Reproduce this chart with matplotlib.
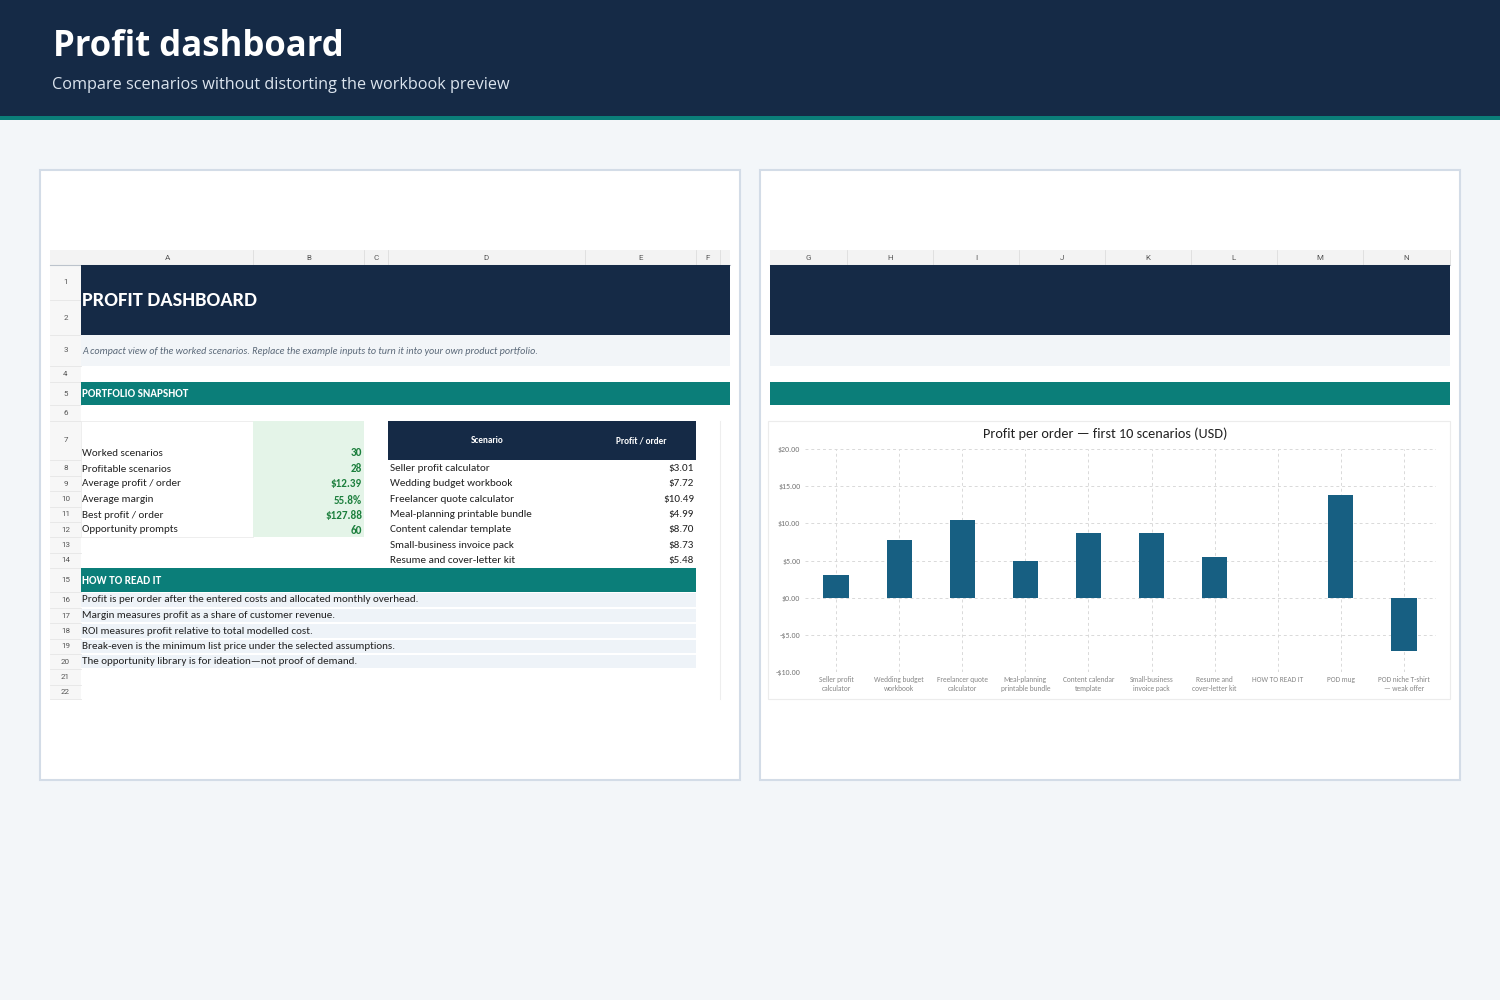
import numpy as np
import matplotlib.pyplot as plt
from matplotlib.patches import Rectangle

# ---- data ----
metric_labels = ["Worked scenarios", "Profitable scenarios", "Average profit / order",
                 "Average margin", "Best profit / order", "Opportunity prompts"]
metric_values = ["30", "28", "$12.39", "55.8%", "$127.88", "60"]

scenario_names = ["Seller profit calculator", "Wedding budget workbook",
                  "Freelancer quote calculator", "Meal-planning printable bundle",
                  "Content calendar template", "Small-business invoice pack",
                  "Resume and cover-letter kit"]
scenario_profits = [3.01, 7.72, 10.49, 4.99, 8.70, 8.73, 5.48]

notes = ["Profit is per order after the entered costs and allocated monthly overhead.",
         "Margin measures profit as a share of customer revenue.",
         "ROI measures profit relative to total modelled cost.",
         "Break-even is the minimum list price under the selected assumptions.",
         "The opportunity library is for ideation\u2014not proof of demand."]

chart_labels = ["Seller profit\ncalculator", "Wedding budget\nworkbook",
                "Freelancer quote\ncalculator", "Meal-planning\nprintable bundle",
                "Content calendar\ntemplate", "Small-business\ninvoice pack",
                "Resume and\ncover-letter kit", "HOW TO READ IT", "POD mug",
                "POD niche T-shirt\n\u2014 weak offer"]
chart_values = [3.01, 7.72, 10.49, 4.99, 8.70, 8.73, 5.48, np.nan, 13.84, -7.15]
chart_ticks = [-10, -5, 0, 5, 10, 15, 20]

left_cols = ["A", "B", "C", "D", "E", "F"]
right_cols = ["G", "H", "I", "J", "K", "L", "M", "N"]

# ---- colours / fonts ----
NAVY = "#152a46"
TEAL = "#0b7e79"
BG = "#f3f6f9"
GREEN = "#1c7f3d"
BAR = "#175f82"
HEAD_FONT = ["Open Sans", "DejaVu Sans"]
SHEET_FONT = ["Carlito", "DejaVu Sans"]
GRID_FONT = ["Roboto", "DejaVu Sans"]
BODY = 8.0

fig = plt.figure(figsize=(15, 10), dpi=100)
fig.patch.set_facecolor(BG)
bg = fig.add_axes([0, 0, 1, 1])
bg.set_xlim(0, 1500)
bg.set_ylim(1000, 0)
bg.axis("off")


def box(x0, y0, x1, y1, fc, ec="none", lw=0.8, z=1):
    bg.add_patch(Rectangle((x0, y0), x1 - x0, y1 - y0, facecolor=fc,
                           edgecolor=ec, linewidth=lw, zorder=z))


def txt(x, y, s, size=7, color="#222222", ha="left", weight="normal",
        style="normal", family=SHEET_FONT, z=5):
    bg.text(x, y, s, fontsize=size, color=color, ha=ha, va="center",
            fontweight=weight, fontstyle=style, family=family, zorder=z)


# header band
box(0, 0, 1500, 116, NAVY)
box(0, 116, 1500, 120, TEAL)
txt(53, 47, "Profit dashboard", size=25, color="white", weight="bold", family=HEAD_FONT)
txt(52, 85, "Compare scenarios without distorting the workbook preview", size=11.7,
    color="#dbe4ee", family=HEAD_FONT)

# two panels
box(40, 170, 740, 780, "white", ec="#d3dce7", lw=1.5)
box(760, 170, 1460, 780, "white", ec="#d3dce7", lw=1.5)

# ---- left sheet ----
row_edges = [265, 300, 335, 366, 382, 405, 421, 460, 476, 491, 507, 522, 537,
             553, 568, 592, 608, 623, 639, 654, 669, 685, 699]
col_edges = [81, 253, 364, 388, 585, 696, 720]
box(50, 250, 730, 265, "#f3f3f3")
box(50, 265, 81, 699, "#f7f7f7")
for c0, c1, lab in zip(col_edges[:-1], col_edges[1:], left_cols):
    txt((c0 + c1) / 2, 257.5, lab, size=5.8, color="#555555", ha="center", family=GRID_FONT)
    bg.plot([c1, c1], [250, 265], color="#dddddd", lw=0.6, zorder=2)
bg.plot([50, 730], [265, 265], color="#bcc3cc", lw=0.8, zorder=2)
for i in range(len(row_edges) - 1):
    r0, r1 = row_edges[i], row_edges[i + 1]
    txt(65.5, (r0 + r1) / 2, str(i + 1), size=5.8, color="#555555", ha="center",
        family=GRID_FONT)
    bg.plot([50, 81], [r1, r1], color="#e6e6e6", lw=0.6, zorder=2)

box(81, 265, 730, 335, NAVY, z=2)
txt(82, 301, "PROFIT DASHBOARD", size=14.7, color="white", weight="bold")
box(81, 335, 730, 366, "#f2f5f8", z=2)
txt(82, 351.5, "A compact view of the worked scenarios. Replace the example inputs "
    "to turn it into your own product portfolio.", size=7.3, color="#5a6878",
    style="italic")
box(81, 382, 730, 405, TEAL, z=2)
txt(82, 393.5, "PORTFOLIO SNAPSHOT", size=BODY, color="white", weight="bold")

# metrics block (rows 7-12)
box(81, 421, 253, 537, "white", ec="#ebebeb", lw=0.6, z=2)
box(253, 421, 364, 537, "#e4f4e8", z=2)
for k, (lab, val) in enumerate(zip(metric_labels, metric_values)):
    yb = row_edges[6 + k + 1]
    txt(82, yb - 7, lab, size=BODY)
    txt(362, yb - 7, val, size=BODY, color=GREEN, ha="right", weight="bold")

# scenario table
box(388, 421, 696, 460, NAVY, z=2)
txt(487, 440.5, "Scenario", size=6.6, color="white", ha="center", weight="bold")
txt(641, 440.5, "Profit / order", size=6.6, color="white", ha="center", weight="bold")
for k, (name, val) in enumerate(zip(scenario_names, scenario_profits)):
    yb = row_edges[7 + k + 1]
    txt(390, yb - 7.5, name, size=BODY)
    txt(694, yb - 7.5, f"${val:.2f}", size=BODY, ha="right")
bg.plot([720, 720], [421, 699], color="#eeeeee", lw=0.8, zorder=2)

box(81, 568, 696, 592, TEAL, z=2)
txt(82, 580.5, "HOW TO READ IT", size=BODY, color="white", weight="bold")
for k, line in enumerate(notes):
    r0, r1 = row_edges[15 + k], row_edges[16 + k]
    box(81, r0 + 0.7, 696, r1 - 0.7, "#eef3f8", z=2)
    txt(82, (r0 + r1) / 2, line, size=BODY)

# ---- right sheet ----
rcol_edges = [770, 847, 933, 1019, 1105, 1191, 1277, 1363, 1450]
box(770, 250, 1450, 265, "#f3f3f3")
for c0, c1, lab in zip(rcol_edges[:-1], rcol_edges[1:], right_cols):
    txt((c0 + c1) / 2, 257.5, lab, size=5.8, color="#555555", ha="center", family=GRID_FONT)
    bg.plot([c1, c1], [250, 265], color="#dddddd", lw=0.6, zorder=2)
bg.plot([770, 1450], [265, 265], color="#bcc3cc", lw=0.8, zorder=2)
box(770, 265, 1450, 335, NAVY, z=2)
box(770, 335, 1450, 366, "#f2f5f8", z=2)
box(770, 382, 1450, 405, TEAL, z=2)

# chart frame
box(768, 421, 1450, 699, "white", ec="#ececec", lw=0.8, z=2)
txt(1105, 434, "Profit per order \u2014 first 10 scenarios (USD)", size=10.25,
    color="#222222", ha="center")

ax = fig.add_axes([804.5 / 1500, 1 - 672 / 1000, 631 / 1500, 223 / 1000])
ax.set_facecolor("none")
x = np.arange(len(chart_labels))
ax.bar(x, chart_values, width=0.4, color=BAR, zorder=3)
ax.set_xlim(-0.5, len(chart_labels) - 0.5)
ax.set_ylim(chart_ticks[0], chart_ticks[-1])
ax.set_yticks(chart_ticks)
ax.set_yticklabels([f"-${-t:.2f}" if t < 0 else f"${t:.2f}" for t in chart_ticks],
                   fontsize=5.8, color="#777777", family=SHEET_FONT)
ax.set_xticks(x)
ax.set_xticklabels(chart_labels, fontsize=5.3, color="#888888", family=SHEET_FONT,
                   linespacing=1.3)
ax.tick_params(length=0, pad=3)
ax.grid(True, color="#d9d9d9", linestyle=(0, (3, 3)), linewidth=0.7, zorder=0)
for s in ax.spines.values():
    s.set_visible(False)

plt.savefig("out.png", dpi=100, facecolor=fig.get_facecolor())
